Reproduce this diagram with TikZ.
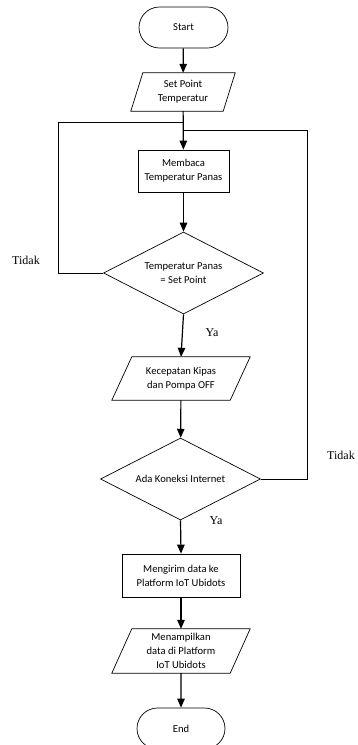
\documentclass[tikz,border=0pt]{standalone}
\usepackage{fontspec}
\setmainfont{Carlito}
\newfontfamily\lblfont{Liberation Serif}
\usetikzlibrary{shapes.geometric,shapes.misc,arrows.meta}

\begin{document}
\begin{tikzpicture}[x=1pt,y=1pt,
  every node/.style={font=\fontsize{10.6}{14}\selectfont, align=center, inner sep=0pt},
  terminal/.style={draw, line width=0.7pt, rounded rectangle, minimum width=89pt, minimum height=41pt},
  process/.style={draw, line width=0.7pt, rectangle, minimum height=42pt},
  iobox/.style={rectangle, minimum height=43pt},
  decision/.style={draw, line width=0.7pt, diamond, aspect=1.95, minimum width=160pt, minimum height=82pt},
  flow/.style={line width=1.2pt, -{Triangle[length=9pt,width=7.5pt]}},
  loopline/.style={line width=0.9pt},
  lbl/.style={font=\lblfont\fontsize{12}{14}\selectfont}
]
\useasboundingbox (0,0) rectangle (357,-745);
\clip (0,0) rectangle (357,-745);

% flowchart nodes
\node[terminal] (start) at (183.5,-27.5) {Start};
\node[iobox, minimum width=92pt, minimum height=38pt] (sp) at (183,-92) {Set Point\\Temperatur};
\node[process, minimum width=91pt] (mb) at (183.5,-171) {Membaca\\Temperatur Panas};
\node[decision] (d1) at (183.5,-273) {Temperatur Panas\\= Set Point};
\node[iobox, minimum width=118pt] (kp) at (181,-378.5) {Kecepatan Kipas\\dan Pompa OFF};
\node[decision] (d2) at (180.5,-479) {Ada Koneksi Internet};
\node[process, minimum width=118pt, minimum height=43pt] (mg) at (181,-575.5) {Mengirim data ke\\Platform IoT Ubidots};
\node[iobox, minimum width=118pt, minimum height=44pt] (mp) at (181,-651) {Menampilkan\\data di Platform\\IoT Ubidots};
\node[terminal, minimum width=88pt] (end) at (181,-728.5) {End};

% parallelogram outlines for the input/output boxes
\foreach \n/\s in {sp/6, kp/10, mp/10}
  \draw[line width=0.7pt] ([xshift=-\s pt]\n.south west) -- ([xshift=-\s pt]\n.south east)
     -- ([xshift=\s pt]\n.north east) -- ([xshift=\s pt]\n.north west) -- cycle;

% main flow
\draw[flow] (start) -- (sp);
\draw[flow] (sp) -- (mb);
\draw[flow] (mb) -- (d1);
\draw[flow] (d1.south) -- (kp.north);
\draw[flow] (kp) -- (d2);
\draw[flow] (d2.south) -- (mg.north);
\draw[flow] (mg) -- (mp);
\draw[flow] (mp) -- (end);

% loop-back lines
\coordinate (j1) at (183.25,-122);
\coordinate (j2) at (183.25,-130);
\coordinate (lc) at (58,-122);
\coordinate (rc) at (307,-130);
\draw[loopline] (d1.west) -| (lc) -- (j1);
\draw[loopline] (d2.east) -| (rc) -- (j2);

% branch labels
\node[lbl] (t1) at (26,-260) {Tidak};
\node[lbl] (t2) at (341,-455) {Tidak};
\node[lbl] (y1) at (212,-333) {Ya};
\node[lbl] (y2) at (216,-521) {Ya};
\end{tikzpicture}
\end{document}
